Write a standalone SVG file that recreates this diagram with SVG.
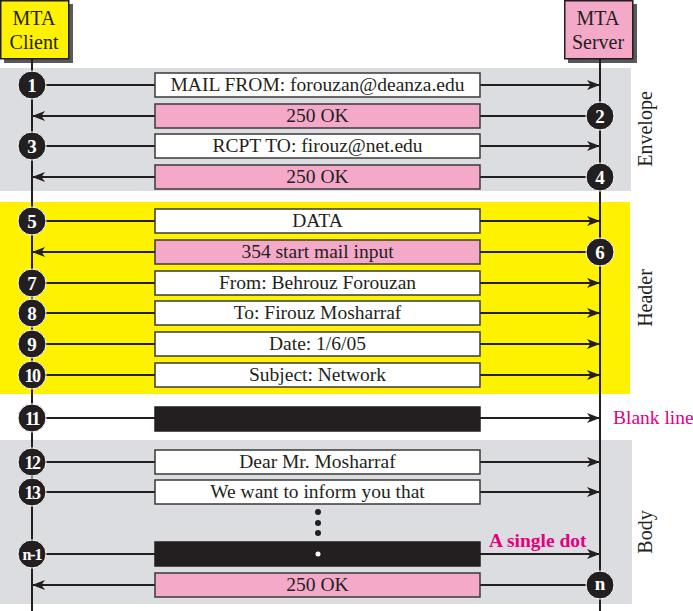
<svg xmlns="http://www.w3.org/2000/svg" width="693" height="611" viewBox="0 0 693 611">
<style>
text{font-family:"Liberation Serif","Times New Roman",serif;fill:#231f20}
.t{font-size:19.5px;text-anchor:middle}
.h{font-size:20px;text-anchor:middle}
.n{font-size:19px;font-weight:bold;fill:#fff;text-anchor:middle}
.lab{font-size:20px;text-anchor:middle}
.w{fill:#fff;stroke:#3a3a3a;stroke-width:1.5}
.p{fill:#f5a9c9;stroke:#3a3a3a;stroke-width:1.5}
.b{fill:#231f20;stroke:#231f20;stroke-width:1.5}
.c{fill:#231f20;stroke:#fff;stroke-width:1}
.ln{stroke:#231f20;stroke-width:2;fill:none}
.ar{stroke:#231f20;stroke-width:2;fill:none;marker-end:url(#ah)}
</style>
<defs>
<marker id="ah" markerUnits="userSpaceOnUse" markerWidth="14" markerHeight="10" refX="13" refY="5" orient="auto">
<path d="M0,0 L13,5 L0,10 L3.5,5 z" fill="#231f20"/>
</marker>
</defs>
<g id="bands">
<rect x="0" y="68" width="631" height="123" fill="#dcdde0"/>
<rect x="0" y="202" width="630" height="192" fill="#fff200"/>
<rect x="0" y="440" width="632" height="164" fill="#dcdde0"/>
</g>
<g id="client">
<rect x="4" y="4" width="69" height="59" fill="#58595b"/>
<rect x="0.75" y="0.75" width="68" height="58" fill="#fff200" stroke="#231f20" stroke-width="1.5"/>
<text class="h" x="34" y="25">MTA</text>
<text class="h" x="34" y="49">Client</text>
</g>
<g id="server">
<rect x="568" y="4" width="69" height="59" fill="#58595b"/>
<rect x="564.75" y="0.75" width="68" height="58" fill="#f5a9c9" stroke="#231f20" stroke-width="1.5"/>
<text class="h" x="598" y="25">MTA</text>
<text class="h" x="598" y="49">Server</text>
</g>
<g id="connectors">
<line class="ln" x1="32" y1="59" x2="32" y2="611"/>
<line class="ln" x1="600" y1="59" x2="600" y2="611"/>
<line class="ln" x1="32" y1="85" x2="155" y2="85"/><line class="ar" x1="480" y1="85" x2="600" y2="85"/>
<line class="ln" x1="600" y1="116" x2="480" y2="116"/><line class="ar" x1="155" y1="116" x2="32" y2="116"/>
<line class="ln" x1="32" y1="146" x2="155" y2="146"/><line class="ar" x1="480" y1="146" x2="600" y2="146"/>
<line class="ln" x1="600" y1="177" x2="480" y2="177"/><line class="ar" x1="155" y1="177" x2="32" y2="177"/>
<line class="ln" x1="32" y1="221" x2="155" y2="221"/><line class="ar" x1="480" y1="221" x2="600" y2="221"/>
<line class="ln" x1="600" y1="252" x2="480" y2="252"/><line class="ar" x1="155" y1="252" x2="32" y2="252"/>
<line class="ln" x1="32" y1="283" x2="155" y2="283"/><line class="ar" x1="480" y1="283" x2="600" y2="283"/>
<line class="ln" x1="32" y1="313" x2="155" y2="313"/><line class="ar" x1="480" y1="313" x2="600" y2="313"/>
<line class="ln" x1="32" y1="344" x2="155" y2="344"/><line class="ar" x1="480" y1="344" x2="600" y2="344"/>
<line class="ln" x1="32" y1="375" x2="155" y2="375"/><line class="ar" x1="480" y1="375" x2="600" y2="375"/>
<line class="ln" x1="32" y1="418" x2="155" y2="418"/><line class="ar" x1="480" y1="418" x2="600" y2="418"/>
<line class="ln" x1="32" y1="462" x2="155" y2="462"/><line class="ar" x1="480" y1="462" x2="600" y2="462"/>
<line class="ln" x1="32" y1="492" x2="155" y2="492"/><line class="ar" x1="480" y1="492" x2="600" y2="492"/>
<line class="ln" x1="32" y1="554" x2="155" y2="554"/><line class="ar" x1="480" y1="554" x2="600" y2="554"/>
<line class="ln" x1="600" y1="585" x2="480" y2="585"/><line class="ar" x1="155" y1="585" x2="32" y2="585"/>
</g>
<g id="msg1"><rect class="w" x="155" y="73" width="325" height="24"/><text class="t" x="317.5" y="91">MAIL FROM: forouzan@deanza.edu</text><circle class="c" cx="32" cy="85" r="14"/><text class="n" x="32" y="91.5">1</text></g>
<g id="msg2"><rect class="p" x="155" y="104" width="325" height="24"/><text class="t" x="317.5" y="122">250 OK</text><circle class="c" cx="600" cy="116" r="14"/><text class="n" x="600" y="122.5">2</text></g>
<g id="msg3"><rect class="w" x="155" y="134" width="325" height="24"/><text class="t" x="317.5" y="152">RCPT TO: firouz@net.edu</text><circle class="c" cx="32" cy="146" r="14"/><text class="n" x="32" y="152.5">3</text></g>
<g id="msg4"><rect class="p" x="155" y="165" width="325" height="24"/><text class="t" x="317.5" y="183">250 OK</text><circle class="c" cx="600" cy="177" r="14"/><text class="n" x="600" y="183.5">4</text></g>
<g id="msg5"><rect class="w" x="155" y="209" width="325" height="24"/><text class="t" x="317.5" y="227">DATA</text><circle class="c" cx="32" cy="221" r="14"/><text class="n" x="32" y="227.5">5</text></g>
<g id="msg6"><rect class="p" x="155" y="240" width="325" height="24"/><text class="t" x="317.5" y="258">354 start mail input</text><circle class="c" cx="600" cy="252" r="14"/><text class="n" x="600" y="258.5">6</text></g>
<g id="msg7"><rect class="w" x="155" y="271" width="325" height="24"/><text class="t" x="317.5" y="289">From: Behrouz Forouzan</text><circle class="c" cx="32" cy="283" r="14"/><text class="n" x="32" y="289.5">7</text></g>
<g id="msg8"><rect class="w" x="155" y="301" width="325" height="24"/><text class="t" x="317.5" y="319">To: Firouz Mosharraf</text><circle class="c" cx="32" cy="313" r="14"/><text class="n" x="32" y="319.5">8</text></g>
<g id="msg9"><rect class="w" x="155" y="332" width="325" height="24"/><text class="t" x="317.5" y="350">Date: 1/6/05</text><circle class="c" cx="32" cy="344" r="14"/><text class="n" x="32" y="350.5">9</text></g>
<g id="msg10"><rect class="w" x="155" y="363" width="325" height="24"/><text class="t" x="317.5" y="381">Subject: Network</text><circle class="c" cx="32" cy="375" r="14"/><text class="n" x="32" y="381.5" style="font-size:18px;letter-spacing:-1.5px">10</text></g>
<g id="msg11"><rect class="b" x="155" y="407" width="325" height="24"/><circle class="c" cx="32" cy="418" r="14"/><text class="n" x="32" y="424.5" style="font-size:18px;letter-spacing:-1.5px">11</text></g>
<g id="msg12"><rect class="w" x="155" y="450" width="325" height="24"/><text class="t" x="317.5" y="468">Dear Mr. Mosharraf</text><circle class="c" cx="32" cy="462" r="14"/><text class="n" x="32" y="468.5" style="font-size:18px;letter-spacing:-1.5px">12</text></g>
<g id="msg13"><rect class="w" x="155" y="480" width="325" height="24"/><text class="t" x="317.5" y="498">We want to inform you that</text><circle class="c" cx="32" cy="492" r="14"/><text class="n" x="32" y="498.5" style="font-size:18px;letter-spacing:-1.5px">13</text></g>
<g id="dots"><circle cx="318" cy="512" r="3" fill="#231f20"/><circle cx="318" cy="523" r="3" fill="#231f20"/><circle cx="318" cy="533" r="3" fill="#231f20"/></g>
<g id="msgn1"><rect class="b" x="155" y="542" width="325" height="24"/><circle cx="318" cy="554" r="2.5" fill="#fff"/><circle class="c" cx="32" cy="554" r="14"/><text class="n" x="32" y="560" style="font-size:16px;letter-spacing:-1px">n-1</text></g>
<g id="msgn"><rect class="p" x="155" y="573" width="325" height="24"/><text class="t" x="317.5" y="591">250 OK</text><circle class="c" cx="600" cy="585" r="14"/><text class="n" x="600" y="590">n</text></g>
<g id="labels">
<text class="lab" transform="translate(652,129) rotate(-90)">Envelope</text>
<text class="lab" transform="translate(652,298) rotate(-90)">Header</text>
<text class="lab" transform="translate(652,532) rotate(-90)">Body</text>
<text x="613" y="424" style="font-size:19.5px;fill:#e6007e">Blank line</text>
<text x="489" y="547" style="font-size:19.5px;font-weight:bold;fill:#e6007e">A single dot</text>
</g>
</svg>
